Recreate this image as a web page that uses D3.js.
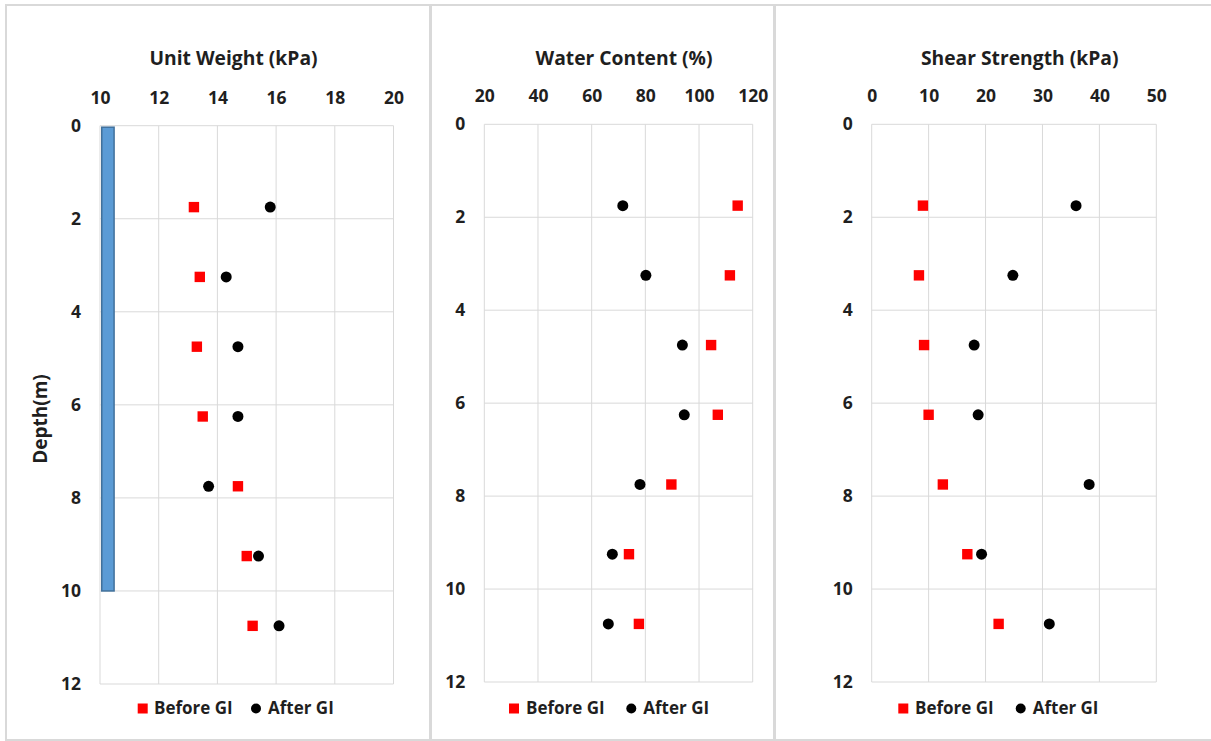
<!DOCTYPE html>
<html>
<head>
<meta charset="utf-8">
<script src="https://cdn.jsdelivr.net/npm/d3@7"></script>
<style>
  html, body { margin: 0; padding: 0; background: #ffffff; }
  svg { display: block; }
  text { font-family: "Open Sans", Lato, sans-serif; font-weight: 700; fill: #1f1f1f; }
</style>
</head>
<body>
<svg id="chart" width="1211" height="741"></svg>
<script>
// Sampling depths (m) shared by all three profiles
const depths = [1.75, 3.25, 4.75, 6.25, 7.75, 9.25, 10.75];
const depthTicks = [0, 2, 4, 6, 8, 10, 12];

// Unit weight (kPa)
const unitWeightBefore = [13.2, 13.4, 13.3, 13.5, 14.7, 15.0, 15.2];
const unitWeightAfter  = [15.8, 14.3, 14.7, 14.7, 13.7, 15.4, 16.1];
const unitWeightTicks  = [10, 12, 14, 16, 18, 20];

// Water content (%)
const waterBefore = [114.4, 111.5, 104.5, 107.0, 89.7, 73.9, 77.6];
const waterAfter  = [71.6, 80.2, 93.8, 94.5, 78.0, 67.7, 66.2];
const waterTicks  = [20, 40, 60, 80, 100, 120];

// Shear strength (kPa)
const shearBefore = [9.0, 8.3, 9.2, 10.0, 12.5, 16.8, 22.3];
const shearAfter  = [35.9, 24.8, 18.0, 18.7, 38.2, 19.3, 31.2];
const shearTicks  = [0, 10, 20, 30, 40, 50];

// Ground-improvement column drawn on the unit weight profile
const columnDepth = [0, 10];
const columnSpan  = [10.06, 10.48];

const seriesNames = ["Before GI", "After GI"];

const svg = d3.select("#chart");
const FONT = "'Open Sans', Lato, sans-serif";
const INK = "#1f1f1f";

const panels = [
  { frame: [6, 5, 424, 735], plot: [100, 125.7, 393.5, 684], title: "Unit Weight (kPa)", titleX: 233.5,
    ticks: unitWeightTicks, before: unitWeightBefore, after: unitWeightAfter, column: true, depthTitle: true,
    legend: { sq: 142.7, txt1: 154, dot: 256, txt2: 268 } },
  { frame: [431, 5, 343, 735], plot: [484.3, 124.3, 752.7, 682], title: "Water Content (%)", titleX: 624,
    ticks: waterTicks, before: waterBefore, after: waterAfter, column: false, depthTitle: false,
    legend: { sq: 514, txt1: 526, dot: 631.3, txt2: 643.3 } },
  { frame: [775, 5, 440, 735], plot: [871.7, 124.3, 1156.3, 682], title: "Shear Strength (kPa)", titleX: 1019.7,
    ticks: shearTicks, before: shearBefore, after: shearAfter, column: false, depthTitle: false,
    legend: { sq: 903.3, txt1: 915, dot: 1020.7, txt2: 1032.7 } }
];

panels.forEach(p => {
  const [x0, y0, x1, y1] = p.plot;
  const g = svg.append("g");

  // chart frame
  g.append("rect")
    .attr("x", p.frame[0]).attr("y", p.frame[1])
    .attr("width", p.frame[2]).attr("height", p.frame[3])
    .attr("fill", "#ffffff").attr("stroke", "#d9d9d9").attr("stroke-width", 2);

  const x = d3.scaleLinear().domain(d3.extent(p.ticks)).range([x0, x1]);
  const y = d3.scaleLinear().domain(d3.extent(depthTicks)).range([y0, y1]);

  // gridlines
  g.append("g").selectAll("line.v").data(p.ticks).join("line")
    .attr("x1", d => x(d)).attr("x2", d => x(d)).attr("y1", y0).attr("y2", y1)
    .attr("stroke", "#d9d9d9").attr("stroke-width", 1);
  g.append("g").selectAll("line.h").data(depthTicks).join("line")
    .attr("x1", x0).attr("x2", x1).attr("y1", d => y(d)).attr("y2", d => y(d))
    .attr("stroke", "#d9d9d9").attr("stroke-width", 1);

  // top axis (values)
  const xAxis = g.append("g").attr("transform", `translate(0,${y0 - 28})`)
    .call(d3.axisTop(x).tickValues(p.ticks).tickSize(0).tickPadding(0));
  xAxis.select(".domain").remove();
  xAxis.selectAll("text").attr("font-size", 17.5).attr("dy", "0.35em")
    .attr("font-family", FONT).attr("font-weight", 700).attr("fill", INK);

  // left axis (depth)
  const yAxis = g.append("g").attr("transform", `translate(${x0 - 19},0)`)
    .call(d3.axisLeft(y).tickValues(depthTicks).tickSize(0).tickPadding(0));
  yAxis.select(".domain").remove();
  yAxis.selectAll("text").attr("font-size", 17.5)
    .attr("font-family", FONT).attr("font-weight", 700).attr("fill", INK);

  // title
  g.append("text").attr("x", p.titleX).attr("y", 65).attr("text-anchor", "middle")
    .attr("font-size", 19.3).text(p.title);

  if (p.depthTitle) {
    g.append("text").attr("transform", `translate(47,419) rotate(-90)`)
      .attr("text-anchor", "middle").attr("font-size", 19).text("Depth(m)");
  }

  if (p.column) {
    g.append("rect")
      .attr("x", x(columnSpan[0])).attr("y", y(columnDepth[0]) + 1.5)
      .attr("width", x(columnSpan[1]) - x(columnSpan[0]))
      .attr("height", y(columnDepth[1]) - y(columnDepth[0]) - 1.5)
      .attr("fill", "#5b9bd5").attr("stroke", "#41719c").attr("stroke-width", 1.5);
  }

  // Before GI: red squares
  g.append("g").selectAll("rect").data(depths).join("rect")
    .attr("x", (d, i) => x(p.before[i]) - 5.2).attr("y", d => y(d) - 5.2)
    .attr("width", 10.4).attr("height", 10.4).attr("fill", "#ff0000");

  // After GI: black circles
  g.append("g").selectAll("circle").data(depths).join("circle")
    .attr("cx", (d, i) => x(p.after[i])).attr("cy", d => y(d))
    .attr("r", 5.5).attr("fill", "#000000");

  // legend
  const ly = 708.5;
  const L = p.legend;
  g.append("rect").attr("x", L.sq - 5).attr("y", ly - 5).attr("width", 10).attr("height", 10).attr("fill", "#ff0000");
  g.append("text").attr("x", L.txt1).attr("y", ly).attr("dy", "0.35em").attr("font-size", 17).text(seriesNames[0]);
  g.append("circle").attr("cx", L.dot).attr("cy", ly).attr("r", 5).attr("fill", "#000000");
  g.append("text").attr("x", L.txt2).attr("y", ly).attr("dy", "0.35em").attr("font-size", 17).text(seriesNames[1]);
});
</script>
</body>
</html>
